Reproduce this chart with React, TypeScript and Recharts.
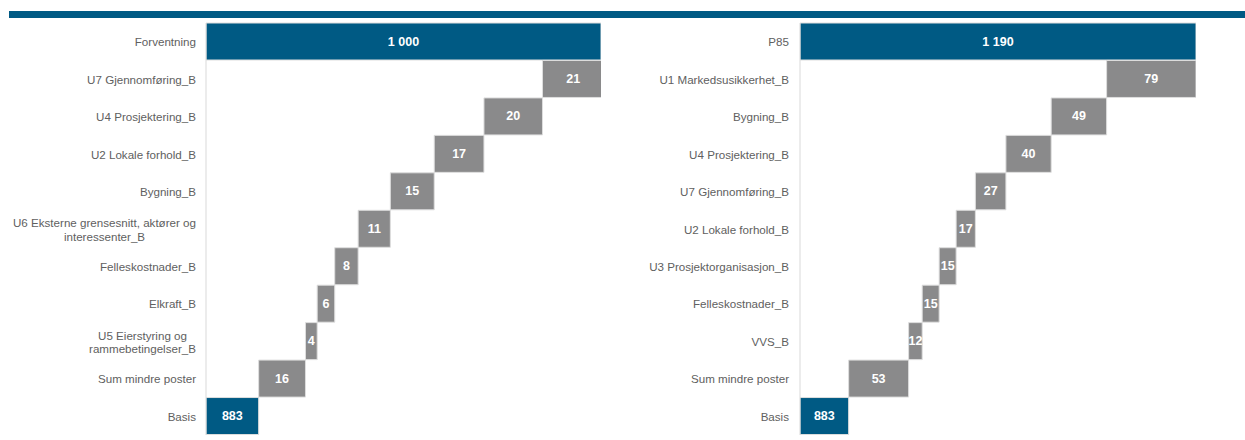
import React from "react";
import { BarChart, Bar, XAxis, YAxis, Cell, LabelList } from "recharts";

// ---- Data ----
const leftCategories = [
  "Forventning",
  "U7 Gjennomføring_B",
  "U4 Prosjektering_B",
  "U2 Lokale forhold_B",
  "Bygning_B",
  "U6 Eksterne grensesnitt, aktører og\ninteressenter_B",
  "Felleskostnader_B",
  "Elkraft_B",
  "U5 Eierstyring og\nrammebetingelser_B",
  "Sum mindre poster",
  "Basis",
];
const leftValues = [1000, 21, 20, 17, 15, 11, 8, 6, 4, 16, 883];
const leftIsTotal = [true, false, false, false, false, false, false, false, false, false, true];
const leftDomain: [number, number] = [865, 1000];

const rightCategories = [
  "P85",
  "U1 Markedsusikkerhet_B",
  "Bygning_B",
  "U4 Prosjektering_B",
  "U7 Gjennomføring_B",
  "U2 Lokale forhold_B",
  "U3 Prosjektorganisasjon_B",
  "Felleskostnader_B",
  "VVS_B",
  "Sum mindre poster",
  "Basis",
];
const rightValues = [1190, 79, 49, 40, 27, 17, 15, 15, 12, 53, 883];
const rightIsTotal = [true, false, false, false, false, false, false, false, false, false, true];
const rightDomain: [number, number] = [840, 1190];

// ---- Styles ----
const BLUE = "#005a84";
const GREY = "#8a8a8b";
const LABEL_COLOR = "#606060";
const FONT = "'Liberation Sans', Arial, sans-serif";
const TICK_SIZE = 11.6;

type Row = { name: string; range: [number, number]; amount: number; total: boolean };

function buildWaterfall(cats: string[], vals: number[], totals: boolean[], axisMin: number): Row[] {
  const rows: Row[] = new Array(cats.length);
  let cum = 0;
  for (let i = cats.length - 1; i >= 0; i--) {
    if (totals[i]) {
      rows[i] = { name: cats[i], range: [axisMin, vals[i]], amount: vals[i], total: true };
      cum = vals[i];
    } else {
      rows[i] = { name: cats[i], range: [cum, cum + vals[i]], amount: vals[i], total: false };
      cum += vals[i];
    }
  }
  return rows;
}

const leftData = buildWaterfall(leftCategories, leftValues, leftIsTotal, leftDomain[0]);
const rightData = buildWaterfall(rightCategories, rightValues, rightIsTotal, rightDomain[0]);

let measureCtx: CanvasRenderingContext2D | null = null;
function measure(text: string, font: string): number {
  if (!measureCtx) {
    const c = document.createElement("canvas");
    measureCtx = c.getContext("2d");
  }
  if (!measureCtx) return text.length * 6;
  measureCtx.font = font;
  return measureCtx.measureText(text).width;
}

const fmt = (n: number) => String(n).replace(/\B(?=(\d{3})+(?!\d))/g, " ");

function makeTick(gap: number) {
  return (props: any) => {
    const { x, y, payload } = props;
    const lines: string[] = String(payload.value).split("\n");
    const lh = 13.5;
    const right = x - gap;
    if (lines.length === 1) {
      return (
        <text x={right} y={y} textAnchor="end" dominantBaseline="central" fontFamily={FONT} fontSize={TICK_SIZE} fill={LABEL_COLOR}>
          {lines[0]}
        </text>
      );
    }
    const widths = lines.map((l) => measure(l, `${TICK_SIZE}px 'Liberation Sans'`));
    const maxW = Math.max(...widths);
    const cx = right - maxW / 2;
    const startY = y - ((lines.length - 1) * lh) / 2;
    return (
      <text textAnchor="middle" dominantBaseline="central" fontFamily={FONT} fontSize={TICK_SIZE} fill={LABEL_COLOR}>
        {lines.map((l, i) => (
          <tspan key={i} x={cx} y={startY + i * lh}>
            {l}
          </tspan>
        ))}
      </text>
    );
  };
}

const renderValue = (props: any) => {
  const { x, y, width, height, value } = props;
  return (
    <text
      x={x + width / 2}
      y={y + height / 2}
      textAnchor="middle"
      dominantBaseline="central"
      fontFamily={FONT}
      fontSize={12.5}
      fontWeight="bold"
      fill="#ffffff"
    >
      {fmt(value)}
    </text>
  );
};

function Waterfall({
  data,
  domain,
  width,
  height,
  axisWidth,
  marginRight,
  gap,
}: {
  data: Row[];
  domain: [number, number];
  width: number;
  height: number;
  axisWidth: number;
  marginRight: number;
  gap: number;
}) {
  return (
    <BarChart
      layout="vertical"
      width={width}
      height={height}
      data={data}
      margin={{ top: 15, right: marginRight, bottom: 0, left: 0 }}
      barCategoryGap={0}
      barGap={0}
    >
      <XAxis type="number" domain={domain} allowDataOverflow hide />
      <YAxis
        type="category"
        dataKey="name"
        width={axisWidth}
        axisLine={{ stroke: "#d9d9d9" }}
        tickLine={false}
        tickSize={0}
        tickMargin={0}
        interval={0}
        tick={makeTick(gap)}
      />
      <Bar dataKey="range" isAnimationActive={false} stroke="#dedede" strokeWidth={1}>
        {data.map((d, i) => (
          <Cell key={i} fill={d.total ? BLUE : GREY} />
        ))}
        <LabelList dataKey="amount" content={renderValue} />
      </Bar>
    </BarChart>
  );
}

export default function App() {
  return (
    <div style={{ position: "relative", width: 1245, height: 440, background: "#fff" }}>
      <style>{"body{margin:0;overflow:hidden}"}</style>
      <div style={{ position: "absolute", left: 9, top: 11, width: 1236, height: 7, background: BLUE }} />
      <div style={{ position: "absolute", left: 8, top: 8 }}>
        <Waterfall data={leftData} domain={leftDomain} width={600} height={427} axisWidth={198} marginRight={7} gap={10} />
      </div>
      <div style={{ position: "absolute", left: 620, top: 8 }}>
        <Waterfall data={rightData} domain={rightDomain} width={586} height={427} axisWidth={180} marginRight={10} gap={11} />
      </div>
    </div>
  );
}
